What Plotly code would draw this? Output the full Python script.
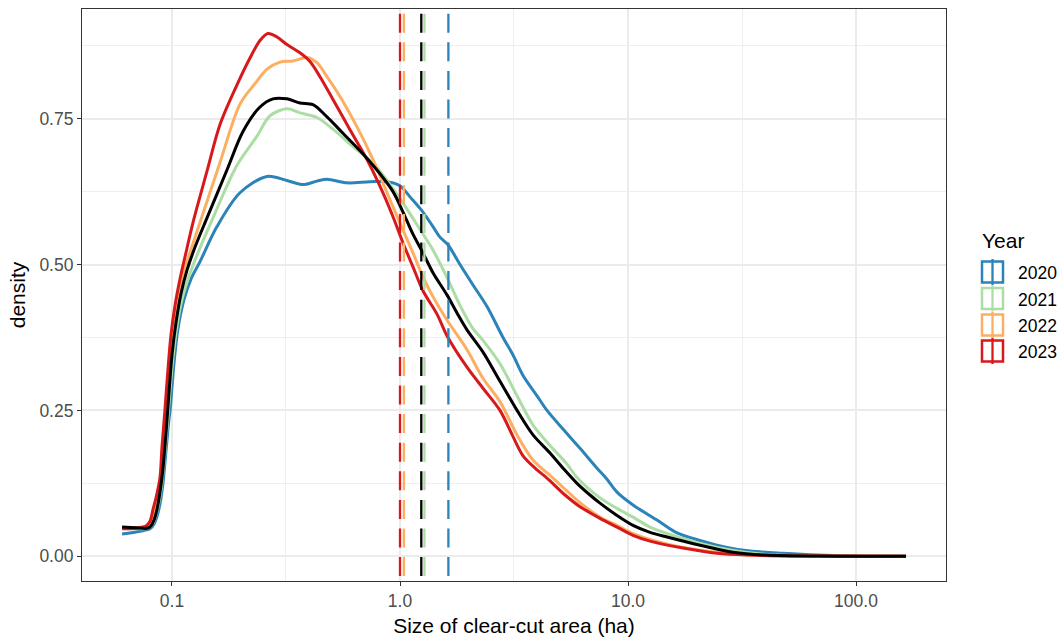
import plotly.graph_objects as go

# ---------------- data ----------------
years = ["2020", "2021", "2022", "2023"]
colors = {"2020": "#2B83BA", "2021": "#ABDDA4", "2022": "#FDAE61", "2023": "#D7191C", "All": "#000000"}

area_2020 = [0.0604, 0.0724, 0.0801, 0.0834, 0.0859, 0.0886, 0.0913, 0.0941, 0.0970, 0.0981, 0.1020,
             0.1062, 0.1129, 0.1211, 0.1327, 0.1575, 0.1987, 0.261, 0.3193, 0.3756, 0.4323, 0.4784,
             0.5855, 0.7386, 0.877, 1.0, 1.106, 1.261, 1.395, 1.497, 1.623, 1.833, 2.090, 2.408, 2.830,
             3.131, 3.464, 3.990, 4.413, 5.188, 6.158, 7.311, 8.090, 8.949, 10.52, 13.40, 16.40, 20.70,
             27.19, 34.29, 47.85, 67.44, 100.0, 165.7]
dens_2020 = [0.038, 0.043, 0.047, 0.055, 0.068, 0.090, 0.125, 0.180, 0.235, 0.250, 0.330,
             0.390, 0.440, 0.475, 0.505, 0.565, 0.623, 0.651, 0.644, 0.637, 0.643, 0.646,
             0.640, 0.642, 0.642, 0.635, 0.616, 0.590, 0.565, 0.547, 0.534, 0.500, 0.465, 0.428, 0.375,
             0.345, 0.310, 0.275, 0.250, 0.218, 0.185, 0.151, 0.132, 0.110, 0.088, 0.062, 0.040, 0.027,
             0.015, 0.009, 0.005, 0.002, 0.0005, 0.0]

area_2021 = [0.0604, 0.0777, 0.0817, 0.0842, 0.0868, 0.0895, 0.0922, 0.0951, 0.0981, 0.1010, 0.1052,
             0.1106, 0.1187, 0.1300, 0.1513, 0.1928, 0.2359, 0.269, 0.3193, 0.3642, 0.4323, 0.5082,
             0.6222, 0.7616, 0.9318, 1.073, 1.224, 1.395, 1.607, 1.833, 2.090, 2.312, 2.745, 3.261, 3.831,
             4.549, 5.402, 5.975, 7.537, 8.949, 10.52, 12.49, 14.83, 20.70, 28.88, 40.71, 67.44, 165.7]
dens_2021 = [0.048, 0.048, 0.053, 0.065, 0.085, 0.115, 0.160, 0.220, 0.285, 0.340, 0.395,
             0.440, 0.480, 0.520, 0.580, 0.670, 0.720, 0.755, 0.767, 0.760, 0.752, 0.732,
             0.702, 0.674, 0.630, 0.595, 0.560, 0.525, 0.478, 0.430, 0.390, 0.370, 0.330, 0.275, 0.225,
             0.190, 0.158, 0.135, 0.100, 0.082, 0.067, 0.050, 0.039, 0.022, 0.010, 0.003, 0.0005, 0.0]

area_2022 = [0.0604, 0.0746, 0.0785, 0.0817, 0.0842, 0.0868, 0.0895, 0.0922, 0.0951, 0.0981, 0.1010,
             0.1052, 0.1106, 0.1175, 0.1327, 0.1624, 0.1987, 0.2312, 0.261, 0.2976, 0.3395, 0.3909,
             0.4323, 0.4784, 0.5454, 0.6477, 0.7616, 0.9040, 1.031, 1.140, 1.261, 1.395, 1.607, 1.967,
             2.312, 2.745, 3.261, 3.831, 4.689, 6.158, 7.537, 8.949, 10.52, 12.49, 17.43, 24.57, 34.29,
             67.44, 165.7]
dens_2022 = [0.048, 0.050, 0.053, 0.062, 0.078, 0.100, 0.130, 0.190, 0.260, 0.330, 0.390,
             0.435, 0.475, 0.510, 0.572, 0.675, 0.775, 0.810, 0.835, 0.847, 0.849, 0.855,
             0.846, 0.822, 0.788, 0.736, 0.680, 0.611, 0.559, 0.520, 0.479, 0.445, 0.405, 0.354,
             0.305, 0.265, 0.208, 0.165, 0.134, 0.092, 0.067, 0.053, 0.039, 0.029, 0.015, 0.007, 0.002,
             0.0003, 0.0]

area_2023 = [0.0604, 0.0724, 0.0769, 0.0801, 0.0825, 0.0851, 0.0886, 0.0903, 0.0931, 0.0960, 0.0990,
             0.1031, 0.1084, 0.1151, 0.1236, 0.1424, 0.1624, 0.1928, 0.2198, 0.2432, 0.2636, 0.2887,
             0.3193, 0.3642, 0.4029, 0.4457, 0.5082, 0.6034, 0.7166, 0.842, 0.9318, 1.031, 1.140, 1.261,
             1.453, 1.607, 1.967, 2.312, 2.745, 3.131, 3.464, 3.990, 4.413, 5.293, 6.158, 7.537, 8.949,
             10.52, 12.49, 17.43, 24.57, 34.29, 67.44, 165.7]
dens_2023 = [0.047, 0.049, 0.052, 0.060, 0.080, 0.100, 0.135, 0.185, 0.250, 0.320, 0.380,
             0.430, 0.475, 0.520, 0.572, 0.660, 0.740, 0.808, 0.854, 0.884, 0.896, 0.890,
             0.877, 0.863, 0.848, 0.822, 0.783, 0.731, 0.680, 0.623, 0.582, 0.537, 0.496, 0.455,
             0.415, 0.378, 0.324, 0.288, 0.250, 0.205, 0.172, 0.148, 0.134, 0.105, 0.085, 0.065, 0.050,
             0.036, 0.026, 0.014, 0.005, 0.002, 0.0003, 0.0]

area_all = [0.0604, 0.0689, 0.0777, 0.0809, 0.0834, 0.0859, 0.0886, 0.0913, 0.0941, 0.0970, 0.1000,
            0.1041, 0.1095, 0.1163, 0.1262, 0.1424, 0.1742, 0.2048, 0.2432, 0.2773, 0.3193, 0.3642,
            0.4152, 0.4784, 0.5623, 0.6677, 0.7925, 0.9318, 1.031, 1.140, 1.261, 1.395, 1.607, 1.778,
            1.967, 2.312, 2.745, 3.261, 3.831, 4.549, 5.188, 5.975, 6.813, 7.537, 8.949, 10.52, 12.49,
            14.83, 20.70, 28.88, 40.71, 67.44, 165.7]
dens_all = [0.050, 0.049, 0.048, 0.052, 0.062, 0.080, 0.110, 0.150, 0.210, 0.280, 0.345,
            0.400, 0.450, 0.490, 0.530, 0.580, 0.662, 0.728, 0.770, 0.784, 0.784, 0.777,
            0.774, 0.753, 0.725, 0.695, 0.662, 0.625, 0.590, 0.552, 0.520, 0.486, 0.448, 0.417,
            0.388, 0.350, 0.300, 0.250, 0.208, 0.177, 0.151, 0.125, 0.105, 0.091, 0.070, 0.053, 0.041,
            0.033, 0.019, 0.007, 0.002, 0.0003, 0.0]

# median clear-cut size per group (dashed lines)
median_groups = ["2023", "2022", "All", "2021", "2020"]
median_area = [1.00, 1.04, 1.24, 1.28, 1.63]

x_tickvals = [0.1, 1, 10, 100]
x_ticktext = ["0.1", "1.0", "10.0", "100.0"]
y_tickvals = [0.0, 0.25, 0.5, 0.75]
y_ticktext = ["0.00", "0.25", "0.50", "0.75"]

# ---------------- figure ----------------
FONT = "Liberation Sans, Arial, sans-serif"
W, H = 1061, 638
L, R, T, B = 82, 946, 9, 581

fig = go.Figure()

series = [("2020", area_2020, dens_2020), ("2021", area_2021, dens_2021),
          ("2022", area_2022, dens_2022), ("2023", area_2023, dens_2023),
          ("All", area_all, dens_all)]
for name, xs, ys in series:
    fig.add_trace(go.Scatter(x=xs, y=ys, mode="lines", name=name, showlegend=False,
                             line=dict(color=colors[name], width=3, shape="spline", smoothing=0.9),
                             hoverinfo="skip"))

for g, m in zip(median_groups, median_area):
    fig.add_trace(go.Scatter(x=[m, m], y=[0.979, -0.1], mode="lines", showlegend=False,
                             line=dict(color=colors[g], width=2.3, dash="19px,9.6px"),
                             hoverinfo="skip"))

# manual legend (ggplot style keys)
def pxx(p):
    return (p - L) / (R - L)

def pxy(p):
    return (B - p) / (B - T)

shapes = []
annotations = []
annotations.append(dict(x=pxx(980), y=pxy(240), xref="paper", yref="paper", text="Year",
                        showarrow=False, xanchor="left", yanchor="middle",
                        font=dict(family=FONT, size=21, color="#000000")))
key_centers = [272, 298.5, 325, 351]
for yr, cy in zip(years, key_centers):
    c = colors[yr]
    shapes.append(dict(type="rect", xref="paper", yref="paper",
                       x0=pxx(982), x1=pxx(1003), y0=pxy(cy - 10.5), y1=pxy(cy + 10.5),
                       line=dict(color=c, width=2.5), fillcolor="rgba(0,0,0,0)"))
    shapes.append(dict(type="line", xref="paper", yref="paper",
                       x0=pxx(992.5), x1=pxx(992.5), y0=pxy(cy - 13), y1=pxy(cy + 13),
                       line=dict(color=c, width=2.3)))
    annotations.append(dict(x=pxx(1016), y=pxy(cy + 1), xref="paper", yref="paper", text=yr,
                            showarrow=False, xanchor="left", yanchor="middle",
                            font=dict(family=FONT, size=17.5, color="#000000")))

axis_common = dict(showline=True, linecolor="#333333", linewidth=1.1, mirror=True,
                   ticks="outside", ticklen=4, tickwidth=1.1, tickcolor="#333333",
                   gridcolor="#EBEBEB", gridwidth=1.6, zeroline=False, automargin=False,
                   tickfont=dict(family=FONT, size=17.5, color="#4D4D4D"))

fig.update_layout(
    width=W, height=H,
    margin=dict(l=L, r=W - R, t=T, b=H - B, pad=0, autoexpand=False),
    paper_bgcolor="white", plot_bgcolor="white",
    showlegend=False,
    shapes=shapes, annotations=annotations,
    xaxis=dict(type="log", range=[-1.3947, 2.3947], tickvals=x_tickvals, ticktext=x_ticktext,
               title=dict(text="Size of clear-cut area (ha)", standoff=8,
                          font=dict(family=FONT, size=21, color="#000000")),
               minor=dict(tickvals=[0.3162, 3.162, 31.62], showgrid=True, gridcolor="#EFEFEF",
                          gridwidth=0.9, ticks=""),
               **axis_common),
    yaxis=dict(range=[-0.0424, 0.938], tickvals=y_tickvals, ticktext=y_ticktext,
               title=dict(text="density", standoff=8,
                          font=dict(family=FONT, size=21, color="#000000")),
               minor=dict(tickvals=[0.125, 0.375, 0.625, 0.875], showgrid=True, gridcolor="#EFEFEF",
                          gridwidth=0.9, ticks=""),
               **axis_common),
)

fig.write_html("out.html")
